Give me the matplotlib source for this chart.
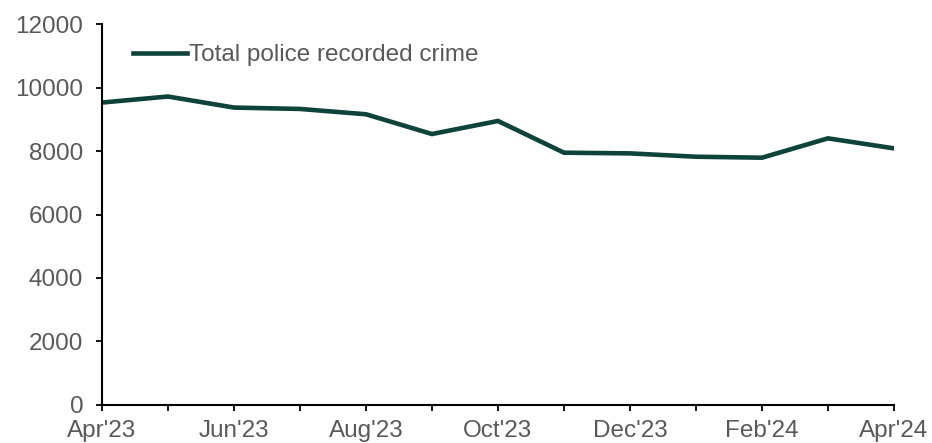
import matplotlib

matplotlib.use("Agg")
import matplotlib.pyplot as plt

# Recorded crime per month, April 2023 to April 2024
meses = ["Apr'23", "May'23", "Jun'23", "Jul'23", "Aug'23", "Sep'23", "Oct'23",
         "Nov'23", "Dec'23", "Jan'24", "Feb'24", "Mar'24", "Apr'24"]
crimes = [9526, 9716, 9368, 9325, 9157, 8535, 8946,
          7947, 7925, 7820, 7789, 8399, 8083]
rotulos_y = [0, 2000, 4000, 6000, 8000, 10000, 12000]

plt.rcParams["font.family"] = ["Liberation Sans", "DejaVu Sans"]

cor_linha = "#0d4338"
cor_texto = "#595959"

figura = plt.figure(figsize=(9.32, 4.43), dpi=100)
eixo = figura.add_axes([0.1094, 0.0858, 0.8498, 0.86])

posicoes = list(range(len(meses)))
eixo.plot(posicoes, crimes, color=cor_linha, linewidth=3.3,
          solid_joinstyle="miter", label="Total police recorded crime")

eixo.set_xlim(0, len(meses) - 1)
eixo.set_ylim(0, 12000)
eixo.set_yticks(rotulos_y)
# só meses alternados recebem rótulo, mas todos têm marca
eixo.set_xticks(posicoes, [m if i % 2 == 0 else "" for i, m in enumerate(meses)])

for lado in ("top", "right"):
    eixo.spines[lado].set_visible(False)
for lado in ("left", "bottom"):
    eixo.spines[lado].set_linewidth(1.5)
    eixo.spines[lado].set_color("black")

eixo.tick_params(axis="both", direction="out", length=4.5, width=1.3,
                 labelsize=17.5, labelcolor=cor_texto)
eixo.tick_params(axis="y", pad=9)
eixo.tick_params(axis="x", pad=6.5)

legenda = eixo.legend(loc="upper left", bbox_to_anchor=(0.027, 0.972),
                      frameon=False, fontsize=17.5, handlelength=2.2,
                      handletextpad=0.1, borderaxespad=0)
for texto in legenda.get_texts():
    texto.set_color(cor_texto)

figura.savefig("out.png", dpi=100)
plt.close(figura)
